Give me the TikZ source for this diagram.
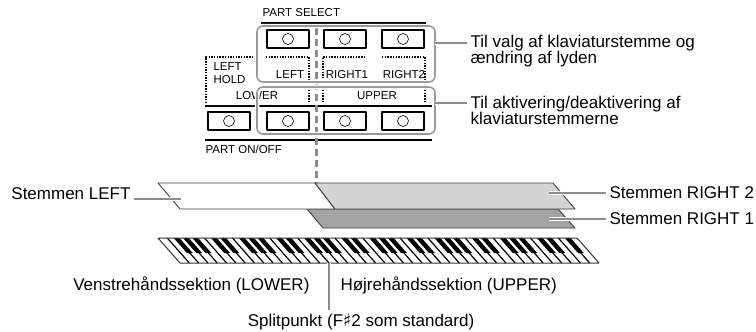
\documentclass[tikz,border=0pt]{standalone}
\usepackage{fontspec}
\setmainfont{Liberation Sans}
\newfontfamily\symfont{DejaVu Sans}
\usetikzlibrary{positioning}

\tikzset{
  paneltext/.style={font=\fontsize{11.5}{13}\selectfont},
  notetext/.style={font=\fontsize{17}{16}\selectfont, align=left},
  btn/.style={draw, line width=2.2pt, minimum width=42pt, minimum height=18pt, inner sep=0pt,
    path picture={\draw[line width=0.6pt] (path picture bounding box.center) circle (5.5pt);}},
  panelbox/.style={draw=black!40, line width=1.6pt, rounded corners=6pt,
    preaction={draw=white, line width=4.5pt}},
  leader/.style={draw=black!45, line width=1.4pt, preaction={draw=white, line width=4pt}},
  dots/.style={line width=1.4pt, dash pattern=on 1.4pt off 1.3pt},
  layer/.style={draw=black!75, line width=0.9pt},
}

\begin{document}
\begin{tikzpicture}[x=1pt, y=-1pt, line join=round]
  \useasboundingbox (0,0) rectangle (756,332);
  \colorlet{rtwo}{black!17} \colorlet{rone}{black!36}

  % control panel
  \node[paneltext, anchor=west] (psel) at (259,13) {PART SELECT};
  \draw[line width=1.5pt] (261,23) -- (426,23);
  \node[paneltext] (lleft) at (290,75) {LEFT};
  \node[paneltext] (lrone) at (347,75) {RIGHT1};
  \node[paneltext] (lrtwo) at (404,75) {RIGHT2};
  \node[paneltext, align=left, anchor=west] (lhold) at (210,73) {LEFT\\HOLD};
  \node[paneltext] (llow) at (257,96) {LOWER};
  \node[paneltext] (lup) at (377,96) {UPPER};
  \node[paneltext, anchor=west] (ponoff) at (202,149) {PART ON/OFF};
  \draw[dots] (206,103) -- (206,57) -- (252,57);
  \draw[dots] (266,57) -- (309,57) -- (309,81);
  \draw[dots] (323,81) -- (323,57) -- (366,57);
  \draw[dots] (382,57) -- (425,57) -- (425,81);
  \foreach \x in {309,323,425}
    \draw[dots] (\x,90) -- (\x,103);
  \draw[line width=1.5pt] (205,106) -- (432,106);
  \draw[line width=1.5pt] (205,140) -- (432,140);
  \draw[black!45, line width=3pt, dash pattern=on 7pt off 4pt] (316,28) -- (316,183);
  \draw[panelbox] (257,26) rectangle (435,82);
  \draw[panelbox] (257,87) rectangle (435,134);
  \foreach \n/\x in {sa/288, sb/345, sc/403}
    \node[btn] (\n) at (\x,39) {};
  \foreach \n/\x in {oa/229, ob/288, oc/345, od/403}
    \node[btn] (\n) at (\x,121) {};

  % layers
  \draw[layer, fill=rone] (307,209) -- (558,209) -- (575,228) -- (323,228) -- cycle;
  \draw[layer, fill=white] (158,183) -- (315,183) -- (335,209) -- (180,209) -- cycle;
  \draw[layer, fill=rtwo] (315,183) -- (553,183) -- (575,209) -- (335,209) -- cycle;

  % keyboard
  \fill[white] (158,238) -- (577,238) -- (599,263) -- (180,263) -- cycle;
  \foreach \i in {1,...,44}
    \draw[line width=1.2pt] (158+\i*9.311,238) -- ++(22,25);
  \foreach \i in {0,...,43} {
    \pgfmathtruncatemacro\nt{mod(\i,7)}
    \ifnum\nt=0 \else\ifnum\nt=4 \else
      \fill (158+\i*9.311+9.311-2.9,238) -- ++(5.8,0) -- ++(13.2,15) -- ++(-5.8,0) -- cycle;
    \fi\fi
  }
  \draw[black!80, line width=1pt] (158,238) -- (577,238) -- (599,263) -- (180,263) -- cycle;

  % notes
  \coordinate (leftend) at (181,199);
  \coordinate (rtwoend) at (549,193);
  \coordinate (roneend) at (549,219);
  \coordinate (selend) at (435,43);
  \coordinate (onend) at (435,103);
  \coordinate (splitend) at (329,263);
  \node[notetext, anchor=east] (stleft) at (134,194) {Stemmen LEFT};
  \node[notetext, anchor=west] (strtwo) at (606,193) {Stemmen RIGHT 2};
  \node[notetext, anchor=west] (strone) at (606,219) {Stemmen RIGHT 1};
  \node[notetext, anchor=west] (selnote) at (467,51) {Til valg af klaviaturstemme og\\ændring af lyden};
  \node[notetext, anchor=west] (onnote) at (467,110) {Til aktivering/deaktivering af\\klaviaturstemmerne};
  \node[notetext, anchor=east] (lowsec) at (313,285) {Venstrehåndssektion (LOWER)};
  \node[notetext, anchor=west] (upsec) at (337,285) {Højrehåndssektion (UPPER)};
  \node[notetext] (splitnote) at (361,322) {Splitpunkt (F{\symfont ♯}2 som standard)};
  \draw[leader] (stleft.east |- leftend) -- (leftend);
  \draw[leader] (rtwoend) -- (strtwo.west |- rtwoend);
  \draw[leader] (roneend) -- (strone.west |- roneend);
  \draw[leader] (selend) -- (selnote.west |- selend);
  \draw[leader] (onend) -- (onnote.west |- onend);
  \draw[leader] (splitend) -- (splitnote.north -| splitend);
\end{tikzpicture}
\end{document}
